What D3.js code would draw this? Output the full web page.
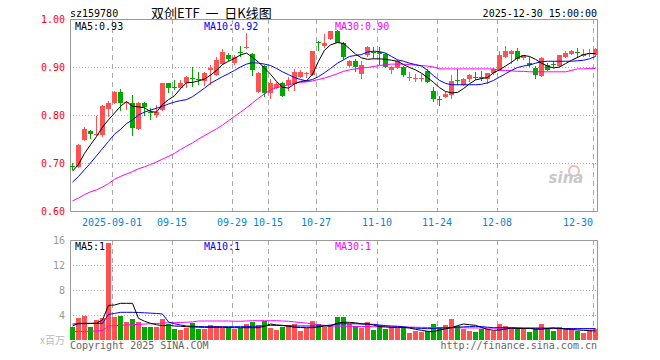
<!DOCTYPE html>
<html>
<head>
<meta charset="utf-8">
<script src="https://cdn.jsdelivr.net/npm/d3@7"></script>
<style>
  body { margin: 0; background: #fff; }
  svg text { font-family: "DejaVu Sans Mono", monospace; font-size: 10px; }
</style>
</head>
<body>
<div id="chart"></div>
<script>
// trading days shown
const dates = [
  "2025-08-21","2025-08-22","2025-08-25","2025-08-26","2025-08-27","2025-08-28","2025-08-29",
  "2025-09-01","2025-09-02","2025-09-03","2025-09-04","2025-09-05","2025-09-08","2025-09-09","2025-09-10","2025-09-11","2025-09-12",
  "2025-09-15","2025-09-16","2025-09-17","2025-09-18","2025-09-19","2025-09-22","2025-09-23","2025-09-24","2025-09-25","2025-09-26",
  "2025-09-29","2025-09-30","2025-10-09","2025-10-10","2025-10-13","2025-10-14","2025-10-15","2025-10-16","2025-10-17",
  "2025-10-20","2025-10-21","2025-10-22","2025-10-23","2025-10-24","2025-10-27","2025-10-28","2025-10-29","2025-10-30","2025-10-31",
  "2025-11-03","2025-11-04","2025-11-05","2025-11-06","2025-11-07","2025-11-10","2025-11-11","2025-11-12","2025-11-13","2025-11-14",
  "2025-11-17","2025-11-18","2025-11-19","2025-11-20","2025-11-21","2025-11-24","2025-11-25","2025-11-26","2025-11-27","2025-11-28",
  "2025-12-01","2025-12-02","2025-12-03","2025-12-04","2025-12-05","2025-12-08","2025-12-09","2025-12-10","2025-12-11","2025-12-12",
  "2025-12-15","2025-12-16","2025-12-17","2025-12-18","2025-12-19","2025-12-22","2025-12-23","2025-12-24","2025-12-25","2025-12-26",
  "2025-12-29","2025-12-30"
];

const open = [0.694,0.692,0.748,0.766,0.758,0.759,0.812,0.825,0.847,0.825,0.826,0.770,0.824,0.806,0.800,0.810,0.866,0.859,0.857,0.866,
  0.877,0.876,0.870,0.893,0.883,0.907,0.926,0.908,0.931,0.940,0.928,0.847,0.903,0.845,0.857,0.866,0.862,0.864,0.879,0.885,
  0.883,0.953,0.944,0.959,0.974,0.951,0.903,0.912,0.885,0.924,0.932,0.932,0.928,0.894,0.897,0.900,0.878,0.876,0.876,0.891,
  0.851,0.834,0.838,0.841,0.873,0.862,0.874,0.880,0.879,0.874,0.888,0.893,0.921,0.928,0.933,0.919,0.909,0.898,0.881,0.905,
  0.906,0.903,0.921,0.928,0.931,0.923,0.927,0.924];
const high = [0.699,0.740,0.774,0.769,0.797,0.820,0.830,0.850,0.855,0.830,0.842,0.828,0.828,0.814,0.821,0.867,0.867,0.873,0.872,0.881,
  0.900,0.890,0.889,0.904,0.920,0.937,0.930,0.924,0.944,0.970,0.930,0.890,0.905,0.876,0.868,0.869,0.879,0.896,0.893,0.889,
  0.934,0.954,0.969,0.976,0.977,0.952,0.914,0.917,0.912,0.943,0.942,0.942,0.930,0.902,0.914,0.903,0.890,0.886,0.886,0.896,
  0.858,0.840,0.848,0.884,0.896,0.878,0.885,0.890,0.892,0.888,0.898,0.933,0.944,0.935,0.940,0.926,0.921,0.903,0.921,0.908,
  0.912,0.925,0.933,0.935,0.940,0.938,0.938,0.940];
const low = [0.685,0.689,0.745,0.750,0.756,0.755,0.796,0.823,0.808,0.810,0.757,0.768,0.797,0.790,0.794,0.808,0.846,0.852,0.855,0.856,
  0.859,0.862,0.860,0.862,0.881,0.905,0.912,0.905,0.921,0.938,0.881,0.845,0.837,0.833,0.855,0.837,0.851,0.851,0.877,0.878,
  0.882,0.933,0.940,0.957,0.950,0.914,0.900,0.890,0.876,0.921,0.917,0.905,0.898,0.885,0.895,0.880,0.870,0.868,0.868,0.866,
  0.827,0.819,0.835,0.834,0.862,0.860,0.868,0.872,0.870,0.865,0.884,0.891,0.919,0.907,0.912,0.914,0.900,0.876,0.879,0.892,
  0.897,0.901,0.919,0.926,0.919,0.921,0.921,0.921];
const close = [0.692,0.738,0.771,0.761,0.760,0.818,0.826,0.847,0.826,0.827,0.773,0.824,0.816,0.804,0.806,0.866,0.857,0.857,0.867,0.879,
  0.875,0.874,0.888,0.897,0.914,0.932,0.917,0.921,0.929,0.942,0.893,0.887,0.845,0.866,0.865,0.840,0.872,0.890,0.889,0.887,
  0.933,0.951,0.949,0.974,0.951,0.921,0.912,0.900,0.905,0.941,0.930,0.928,0.900,0.900,0.912,0.883,0.880,0.878,0.878,0.869,
  0.834,0.832,0.844,0.870,0.871,0.874,0.884,0.878,0.877,0.888,0.896,0.926,0.933,0.933,0.916,0.924,0.905,0.883,0.919,0.894,
  0.904,0.924,0.930,0.933,0.929,0.928,0.929,0.937];

// moving averages as drawn on the chart
const ma5 = [0.683,0.697,0.720,0.738,0.755,0.775,0.790,0.804,0.818,0.828,0.818,0.817,0.815,0.807,0.806,0.822,0.832,0.840,0.855,0.867,
  0.868,0.871,0.875,0.883,0.893,0.905,0.912,0.918,0.925,0.929,0.920,0.910,0.898,0.885,0.870,0.858,0.856,0.865,0.870,0.871,
  0.885,0.912,0.935,0.946,0.951,0.949,0.938,0.927,0.919,0.916,0.917,0.917,0.916,0.914,0.912,0.905,0.899,0.894,0.887,0.878,
  0.868,0.857,0.849,0.846,0.847,0.855,0.865,0.873,0.876,0.878,0.888,0.894,0.902,0.910,0.919,0.924,0.922,0.916,0.908,0.902,
  0.898,0.900,0.907,0.914,0.920,0.926,0.928,0.928];
const ma10 = [0.660,0.672,0.686,0.700,0.715,0.730,0.745,0.760,0.770,0.782,0.790,0.800,0.806,0.810,0.814,0.818,0.823,0.827,0.830,0.832,
  0.838,0.847,0.856,0.866,0.873,0.880,0.886,0.893,0.900,0.906,0.909,0.908,0.906,0.903,0.897,0.890,0.884,0.878,0.874,0.871,
  0.874,0.880,0.888,0.897,0.908,0.915,0.922,0.924,0.926,0.931,0.933,0.932,0.929,0.922,0.915,0.912,0.908,0.905,0.902,0.893,
  0.882,0.872,0.866,0.863,0.863,0.863,0.863,0.863,0.864,0.867,0.872,0.879,0.886,0.893,0.899,0.902,0.904,0.908,0.911,0.912,
  0.912,0.912,0.912,0.912,0.913,0.914,0.917,0.922];
const ma30 = [0.621,0.627,0.634,0.640,0.644,0.650,0.657,0.666,0.672,0.677,0.682,0.688,0.692,0.697,0.702,0.708,0.714,0.720,0.728,0.735,
  0.742,0.750,0.757,0.764,0.771,0.779,0.788,0.797,0.806,0.815,0.825,0.835,0.844,0.852,0.857,0.860,0.863,0.866,0.868,0.869,
  0.871,0.874,0.877,0.881,0.886,0.891,0.894,0.896,0.898,0.899,0.901,0.903,0.905,0.906,0.906,0.906,0.905,0.904,0.903,0.902,
  0.900,0.896,0.896,0.896,0.896,0.896,0.896,0.896,0.896,0.896,0.896,0.893,0.893,0.892,0.891,0.891,0.890,0.890,0.890,0.890,
  0.890,0.890,0.890,0.893,0.896,0.896,0.897,0.897];

// volume, millions of shares
const volume = [2.03,3.57,3.90,2.13,3.20,3.60,15.6,3.73,3.90,2.93,3.40,2.93,2.13,2.03,2.13,3.36,2.56,1.76,1.60,1.97,
  2.77,1.76,1.76,2.40,2.24,1.97,2.03,1.76,1.97,2.56,2.93,2.40,3.04,1.97,1.60,2.13,2.40,2.56,1.49,1.97,
  3.04,2.56,2.03,2.40,3.73,3.73,2.56,2.24,1.97,2.88,1.60,2.40,1.76,2.13,1.97,2.13,1.17,1.49,1.28,1.44,
  2.56,2.08,2.40,3.36,2.24,1.81,1.44,1.28,1.76,1.76,1.49,2.56,2.24,1.87,1.76,1.76,1.28,1.71,2.56,1.81,
  1.44,2.08,1.76,1.76,1.44,1.12,1.55,1.76];
const volMa5 = [2.24,2.67,2.67,2.67,2.67,3.20,5.55,5.60,5.87,5.87,5.87,3.47,3.00,2.67,2.45,2.29,2.35,2.24,2.20,2.13,
  2.10,2.05,2.03,2.03,2.03,2.03,2.00,1.97,1.97,1.97,1.97,1.97,2.20,2.56,2.40,2.35,2.20,2.03,2.00,1.97,
  1.97,2.10,2.24,2.24,2.72,2.83,2.83,2.75,2.60,2.56,2.40,2.13,2.10,2.03,2.03,2.03,1.90,1.71,1.55,1.40,
  1.33,1.60,1.80,1.97,2.30,2.56,2.45,2.35,2.00,1.71,1.55,1.60,1.75,1.90,1.85,1.85,1.85,1.75,1.71,1.85,
  1.95,1.85,1.75,1.70,1.60,1.55,1.50,1.44];
const volMa10 = [2.56,2.60,2.62,2.64,2.67,2.67,4.10,4.25,4.43,4.43,4.43,4.40,4.35,4.30,4.25,4.16,2.88,2.60,2.40,2.24,
  2.20,2.16,2.13,2.13,2.13,2.13,2.13,2.13,2.13,2.15,2.19,2.19,2.30,2.35,2.35,2.30,2.28,2.24,2.24,2.24,
  2.24,2.24,2.28,2.40,2.56,2.60,2.60,2.60,2.56,2.56,2.50,2.40,2.30,2.24,2.20,2.10,2.00,1.90,1.85,1.81,
  1.85,1.90,1.95,1.97,2.05,2.10,2.15,2.19,2.15,2.05,1.97,1.97,1.97,1.97,1.95,1.92,1.92,1.92,1.92,1.90,
  1.88,1.85,1.83,1.81,1.81,1.81,1.81,1.81];
const volMa30 = [1.33,1.35,1.38,1.40,1.45,1.49,2.24,2.30,2.35,2.40,2.45,2.50,2.56,2.60,2.65,2.70,2.75,2.77,2.80,2.85,
  2.90,3.04,3.04,3.04,3.04,3.04,3.04,3.00,3.00,3.04,3.09,3.09,3.09,3.09,3.09,3.04,3.00,2.90,2.80,2.70,
  2.56,2.45,2.35,2.24,2.24,2.22,2.20,2.18,2.16,2.14,2.13,2.12,2.11,2.10,2.09,2.08,2.06,2.04,2.02,2.00,
  1.99,1.98,1.97,1.97,1.96,1.95,1.94,1.93,1.92,1.91,1.90,1.89,1.88,1.87,1.86,1.85,1.85,1.84,1.84,1.83,
  1.83,1.82,1.82,1.81,1.81,1.81,1.81,1.81];

const tickDates = ["2025-09-01","2025-09-15","2025-09-29","2025-10-15","2025-10-27","2025-11-10","2025-11-24","2025-12-08","2025-12-30"];
const priceTicks = [0.6, 0.7, 0.8, 0.9, 1.0];
const volTicks = [4, 8, 12, 16];

const rows = dates.map((d, i) => ({ date: d, o: open[i], h: high[i], l: low[i], c: close[i], v: volume[i] }));

// layout
const W = 660, H = 360;
const left = 70, right = 598;
const pTop = 19, pBottom = 211;
const vTop = 240, vBottom = 340;
const RED = "#ff5252", GREEN = "#00a800";

const x = d3.scaleBand().domain(dates).range([left, right]).paddingInner(0.17).paddingOuter(0).align(0);
const sx = d => Math.round(x(d));
const y = d3.scaleLinear().domain([0.6, 1.0]).range([pBottom, pTop]);
const yv = d3.scaleLinear().domain([0, 16]).range([vBottom, vTop]);

const svg = d3.select("#chart").append("svg").attr("width", W).attr("height", H);

// header
svg.append("text").attr("x", 70).attr("y", 17).attr("fill", "#000").text("sz159780");
svg.append("text").attr("x", 151).attr("y", 18).attr("fill", "#000").attr("xml:space", "preserve")
  .style("font-family", "'Noto Sans CJK SC', sans-serif").style("font-size", "13px").style("white-space", "pre")
  .text("双创ETF  一  日K线图");
svg.append("text").attr("x", 597).attr("y", 17).attr("text-anchor", "end").attr("fill", "#000").text("2025-12-30 15:00:00");

// grid
const grid = svg.append("g");
grid.selectAll("line.h").data([0.7, 0.8, 0.9]).join("line")
  .attr("x1", left).attr("x2", right).attr("y1", d => Math.round(y(d)) + 0.5).attr("y2", d => Math.round(y(d)) + 0.5)
  .attr("stroke", "#aaa").attr("stroke-dasharray", "1,2");
grid.selectAll("line.hv").data([4, 8, 12]).join("line")
  .attr("x1", left).attr("x2", right).attr("y1", d => Math.round(yv(d)) + 0.5).attr("y2", d => Math.round(yv(d)) + 0.5)
  .attr("stroke", "#aaa").attr("stroke-dasharray", "1,2");
[[pTop, pBottom], [vTop, vBottom]].forEach(([a, b]) => {
  grid.append("g").selectAll("line").data(tickDates).join("line")
    .attr("x1", d => sx(d) + 0.5).attr("x2", d => sx(d) + 0.5).attr("y1", a).attr("y2", b)
    .attr("stroke", "#aaa").attr("stroke-dasharray", "5,4");
});

// frames
svg.append("path").attr("d", `M${left + 0.5},${pBottom + 0.5}V${pTop + 0.5}H${right - 0.5}V${pBottom + 0.5}H${left + 0.5}`)
  .attr("fill", "none").attr("stroke", "#999");
svg.append("path").attr("d", `M${left + 0.5},${vBottom}V${vTop + 0.5}H${right - 0.5}V${vBottom}`)
  .attr("fill", "none").attr("stroke", "#999");

// watermark
const wm = svg.append("g").attr("transform", "translate(566,183)");
wm.append("circle").attr("cx", 8).attr("cy", -12).attr("r", 5).attr("fill", "none").attr("stroke", "#f3b8b8").attr("stroke-width", 2);
wm.append("text").attr("text-anchor", "middle").attr("fill", "#c8c8c8")
  .style("font-family", "'DejaVu Sans', sans-serif").style("font-size", "15px").style("font-style", "italic").style("font-weight", "bold").text("sina");

// y labels
svg.selectAll("text.py").data(priceTicks).join("text").attr("class", "py")
  .attr("x", 65).attr("y", d => y(d) + 4).attr("text-anchor", "end").attr("fill", "#f00")
  .text(d => d.toFixed(2));
svg.selectAll("text.vy").data(volTicks).join("text").attr("class", "vy")
  .attr("x", 65).attr("y", d => yv(d) + 4).attr("text-anchor", "end").attr("fill", "#999")
  .text(d => d);
svg.append("text").attr("x", 65).attr("y", 344).attr("text-anchor", "end").attr("fill", "#bbb")
  .style("font-family", "'Noto Sans CJK SC', sans-serif").style("font-size", "10px").text("x百万");

// x labels (kept inside the panel at the right edge)
svg.selectAll("text.xl").data(tickDates).join("text").attr("class", "xl")
  .attr("x", d => sx(d) + 18 > right ? sx(d) : sx(d))
  .attr("text-anchor", d => sx(d) + 18 > right ? "end" : "middle")
  .attr("y", 226).attr("fill", "#0a84d8")
  .text((d, i) => i === 0 ? d : d.slice(5));

// candles
const col = d => d.c >= d.o ? RED : GREEN;
const cg = svg.append("g");
cg.selectAll("rect.wick").data(rows).join("rect").attr("class", "wick")
  .attr("x", d => sx(d.date) + 2).attr("width", 1)
  .attr("y", d => Math.round(y(d.h))).attr("height", d => Math.max(1, Math.round(y(d.l)) - Math.round(y(d.h))))
  .attr("fill", col);
cg.selectAll("rect.body").data(rows).join("rect").attr("class", "body")
  .attr("x", d => sx(d.date)).attr("width", 5)
  .attr("y", d => Math.round(y(Math.max(d.o, d.c))))
  .attr("height", d => Math.max(1, Math.round(y(Math.min(d.o, d.c))) - Math.round(y(Math.max(d.o, d.c)))))
  .attr("fill", col);

// volume bars
svg.append("g").selectAll("rect").data(rows).join("rect")
  .attr("x", d => sx(d.date)).attr("width", 5)
  .attr("y", d => Math.round(yv(d.v))).attr("height", d => vBottom - Math.round(yv(d.v)))
  .attr("fill", col);

// MA lines
const lineP = d3.line().x((d, i) => sx(dates[i]) + 2.5).y(d => y(d));
const lineV = d3.line().x((d, i) => sx(dates[i]) + 2.5).y(d => yv(d));
[[ma30, "#ff00ff"], [ma10, "#0000ff"], [ma5, "#000"]].forEach(([s, c]) => {
  svg.append("path").attr("d", lineP(s)).attr("fill", "none").attr("stroke", c).attr("stroke-width", 1);
});
[[volMa30, "#ff00ff"], [volMa10, "#0000ff"], [volMa5, "#000"]].forEach(([s, c]) => {
  svg.append("path").attr("d", lineV(s)).attr("fill", "none").attr("stroke", c).attr("stroke-width", 1);
});

// MA legends
const last = a => a[a.length - 1];
const legend = (yy, texts) => {
  [[75, "#000"], [204, "#0000ff"], [335, "#ff00ff"]].forEach(([xx, c], i) => {
    svg.append("text").attr("x", xx).attr("y", yy).attr("fill", c).text(texts[i]);
  });
};
legend(30, [`MA5:${last(ma5).toFixed(2)}`, `MA10:${last(ma10).toFixed(2)}`, `MA30:${last(ma30).toFixed(2)}`]);
legend(250, [`MA5:${Math.floor(last(volMa5))}`, `MA10:${Math.floor(last(volMa10))}`, `MA30:${Math.floor(last(volMa30))}`]);

// footer
svg.append("text").attr("x", 70).attr("y", 349).attr("fill", "#666").text("Copyright 2025 SINA.COM");
svg.append("text").attr("x", 597).attr("y", 349).attr("text-anchor", "end").attr("fill", "#666").text("http://finance.sina.com.cn");
</script>
</body>
</html>
